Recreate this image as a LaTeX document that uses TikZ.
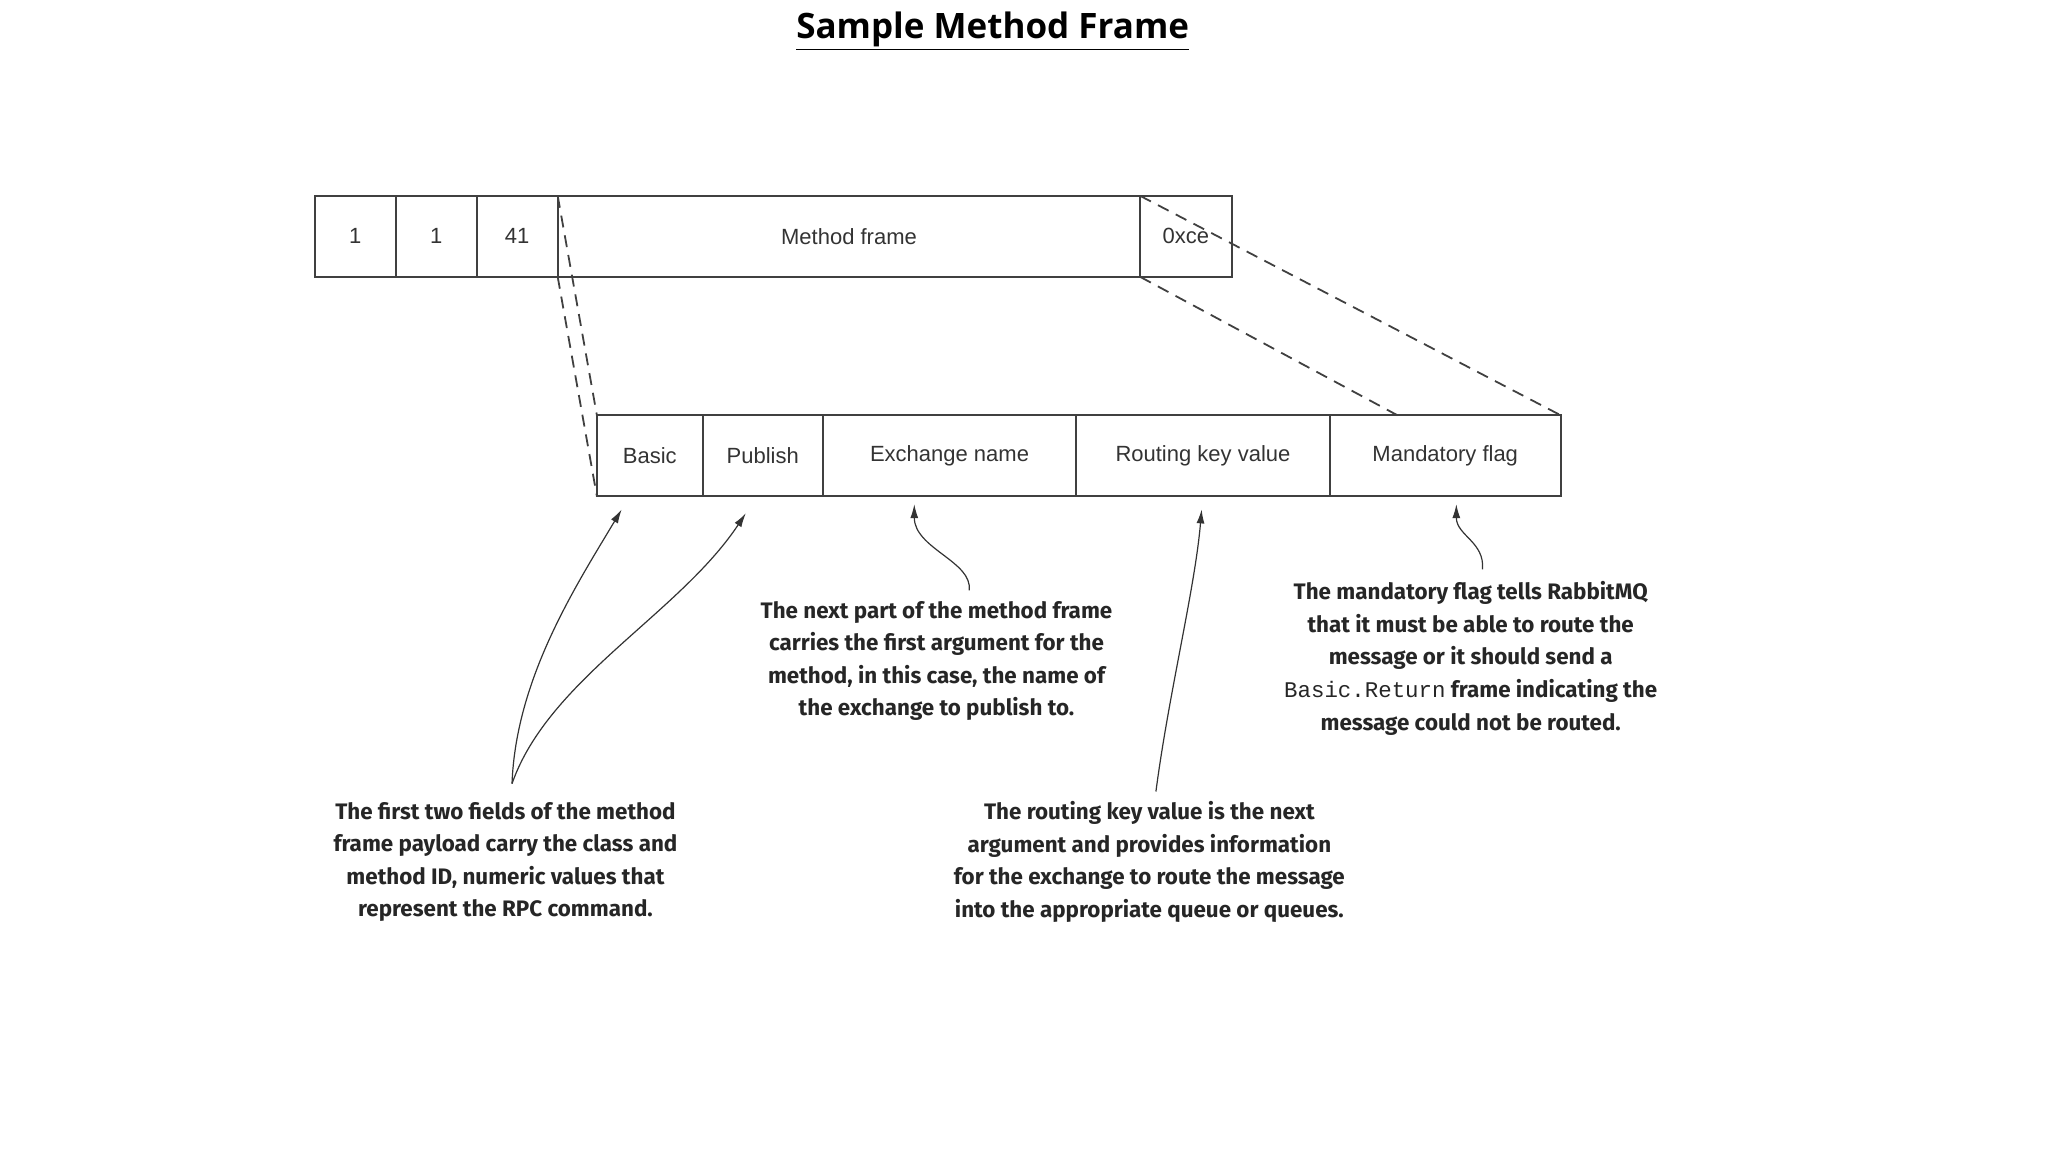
\documentclass[tikz,border=0pt]{standalone}
\usepackage{fontspec}
\setmainfont{Liberation Sans}
\newfontfamily\notefont{Fira Sans}
\newfontfamily\titlefont{Open Sans}
\newfontfamily\codefont{Liberation Mono}
\usetikzlibrary{arrows.meta,positioning}

\tikzset{
    cell/.style={draw=black!75, line width=0.9pt},
    celltext/.style={font=\fontsize{11}{13}\selectfont, text=black!80},
    note/.style={align=center, font=\notefont\bfseries\fontsize{11.2}{16.3}\selectfont, text=black!85},
    guide/.style={dashed, dash pattern=on 6pt off 4pt, black!75, line width=0.9pt},
    pointer/.style={-{Latex[length=7pt,width=4pt]}, black!80, line width=0.6pt}
}
% one field of a frame: name, left, right, top, bottom, label
\newcommand{\field}[6]{%
    \draw[cell] (#2,#4) rectangle (#3,#5);
    \node[celltext] (#1) at ({(#2+#3)/2},{(#4+#5)/2}) {#6};
}

\begin{document}
\begin{tikzpicture}[x=0.653pt, y=-0.653pt]
    \useasboundingbox (0,0) rectangle (1568,882);

    % Title
    \node[font=\titlefont\bfseries\fontsize{17.5}{20}\selectfont] (title) at (760,24) {\underline{Sample Method Frame}};

    % Outer frame
    \field{ftype}{241}{303}{150}{212}{1}
    \field{chan}{303}{365}{150}{212}{1}
    \field{size}{365}{427}{150}{212}{41}
    \field{payload}{427}{873}{150}{212}{Method frame}
    \field{fend}{873}{943}{150}{212}{0xce}

    % Method frame payload
    \field{basic}{457}{538}{318}{380}{Basic}
    \field{publish}{538}{630}{318}{380}{Publish}
    \field{exch}{630}{824}{318}{380}{Exchange name}
    \field{rkey}{824}{1018}{318}{380}{Routing key value}
    \field{mflag}{1018}{1195}{318}{380}{Mandatory flag}

    % Expansion guides
    \coordinate (pl-nw) at (427,150);
    \coordinate (pl-sw) at (427,212);
    \coordinate (fe-nw) at (873,150);
    \coordinate (fe-sw) at (873,212);
    \coordinate (bs-nw) at (457,318);
    \coordinate (bs-sw) at (457,380);
    \coordinate (mf-ne) at (1195,318);
    \coordinate (mf-mid) at (1070,318);
    \draw[guide] (pl-nw) -- (bs-nw);
    \draw[guide] (pl-sw) -- (bs-sw);
    \draw[guide] (fe-nw) -- (mf-ne);
    \draw[guide] (fe-sw) -- (mf-mid);

    % Notes
    \node[note] (classnote) at (387,660) {The first two fields of the method\\frame payload carry the class and\\method ID, numeric values that\\represent the RPC command.};
    \node[note] (exchnote) at (717,506) {The next part of the method frame\\carries the first argument for the\\method, in this case, the name of\\the exchange to publish to.};
    \node[note] (rkeynote) at (880,660) {The routing key value is the next\\argument and provides information\\for the exchange to route the message\\into the appropriate queue or queues.};
    \node[note] (flagnote) at (1126,504) {The mandatory flag tells RabbitMQ\\that it must be able to route the\\message or it should send a\\{\codefont\mdseries Basic.Return} frame indicating the\\message could not be routed.};

    \coordinate (tipbasic) at (476,390);
    \coordinate (tippub) at (571,393);
    \coordinate (tipexch) at (700,386);
    \coordinate (tiprkey) at (920,390);
    \coordinate (tipflag) at (1115,386);

    % Pointers
    \draw[pointer] (392,600) .. controls (395,520) and (440,450) .. (tipbasic);
    \draw[pointer] (392,600) .. controls (420,520) and (520,470) .. (tippub);
    \draw[pointer] (742,452) .. controls (745,430) and (700,420) .. (tipexch);
    \draw[pointer] (885,606) .. controls (895,530) and (915,450) .. (tiprkey);
    \draw[pointer] (1135,436) .. controls (1137,415) and (1115,410) .. (tipflag);
\end{tikzpicture}
\end{document}
